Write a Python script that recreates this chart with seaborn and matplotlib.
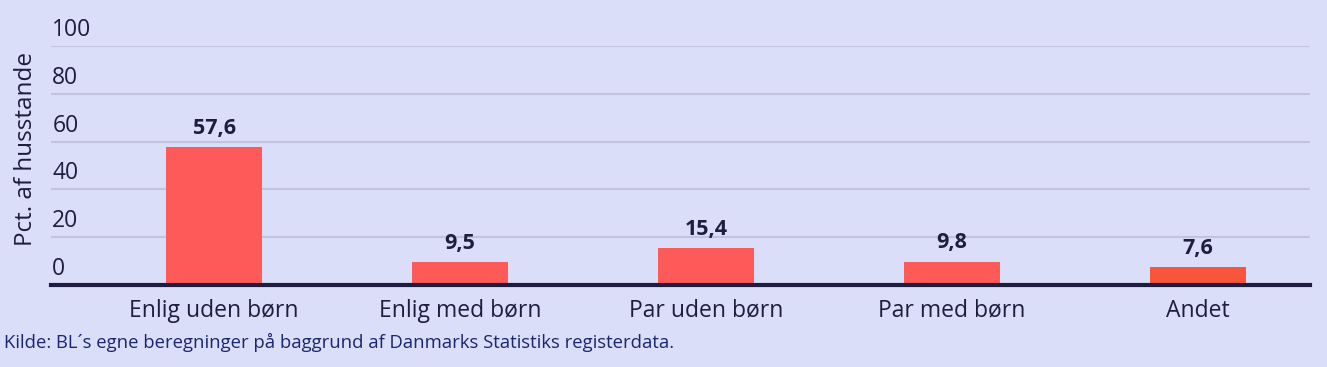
import seaborn as sns
import matplotlib.pyplot as plt
import pandas as pd

# data
kategorier = ["Enlig uden børn", "Enlig med børn", "Par uden børn", "Par med børn", "Andet"]
andel = [57.6, 9.5, 15.4, 9.8, 7.6]
farver = ["#ff5a5a", "#ff5a5a", "#ff5a5a", "#ff5a5a", "#f9553c"]

df = pd.DataFrame({"kategori": kategorier, "andel": andel})

bg = "#dbdef9"
mork = "#1f1d3f"

sns.set_theme(style="white")
plt.rcParams['font.family'] = ['Open Sans', 'DejaVu Sans']

fig = plt.figure(figsize=(13.27, 3.67), dpi=100, facecolor=bg)
ax = fig.add_axes([51/1327, 1-285/367, (1310-51)/1327, (285-46)/367])
ax.set_facecolor(bg)

sns.barplot(ax=ax, data=df, x="kategori", y="andel", hue="kategori",
            palette=farver, width=0.39, legend=False, saturation=1,
            linewidth=0, zorder=3)

ax.set_xlim(-0.663, 4.455)
ax.set_ylim(0, 100)
ax.set_yticks([0, 20, 40, 60, 80, 100])
ax.yaxis.grid(True, color="#c2c4df", linewidth=1.5, zorder=0)
ax.set_axisbelow(True)

for s in ["top", "right", "left"]:
    ax.spines[s].set_visible(False)
ax.spines["bottom"].set_color(mork)
ax.spines["bottom"].set_linewidth(3)
ax.spines["bottom"].set_zorder(5)

# y tick labels sit above the grid lines
ax.set_yticklabels([])
ax.tick_params(axis="y", length=0)
for v in [0, 20, 40, 60, 80, 100]:
    ax.text(0.001, v + 6.7, str(v), transform=ax.get_yaxis_transform(),
            ha="left", va="center", fontsize=16.5, color=mork)

ax.tick_params(axis="x", length=0, pad=10, labelsize=16.5, labelcolor=mork)
ax.set_xlabel("")
ax.set_ylabel("Pct. af husstande", fontsize=17.5, color=mork)
ax.yaxis.set_label_coords(-0.01, 0.57)

for c in ax.containers:
    ax.bar_label(c, labels=[f"{v:.1f}".replace(".", ",") for v in c.datavalues],
                 padding=6, fontsize=15.5, fontweight="bold", color=mork)

fig.text(4/1327, 1-342/367, "Kilde: BL\u00b4s egne beregninger på baggrund af Danmarks Statistiks registerdata.",
         fontsize=13.3, color="#1b2670", ha="left", va="center")

fig.savefig("out.png", dpi=100, facecolor=bg)
